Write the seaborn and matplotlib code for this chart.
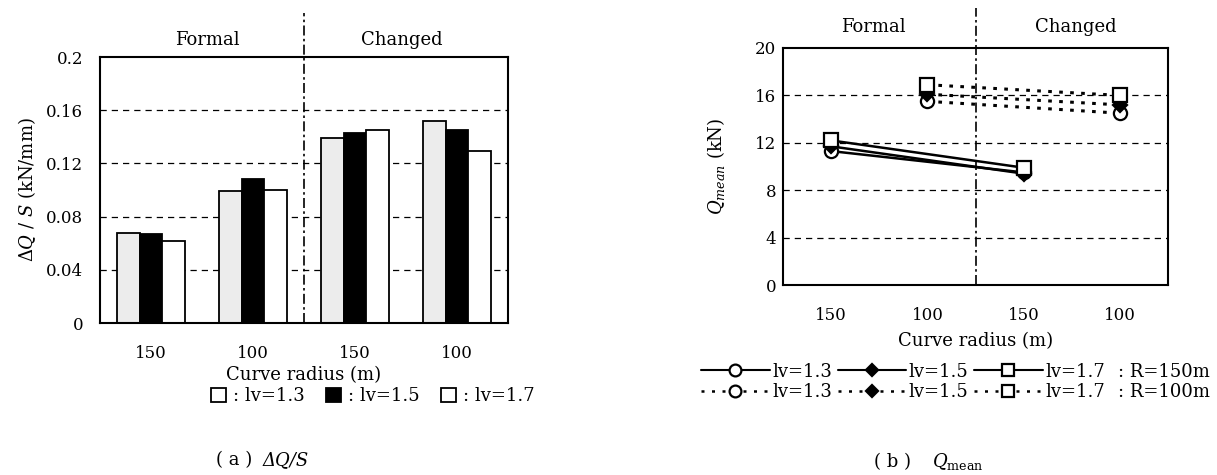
import numpy as np
import pandas as pd
import seaborn as sns
import matplotlib.pyplot as plt
from matplotlib.lines import Line2D
from matplotlib.patches import Patch

# categories along the x axis (4 cases) and their tick labels
groups = ["Formal 150", "Formal 100", "Changed 150", "Changed 100"]
tick_labels = ["150", "100", "150", "100"]
lv_levels = ["lv=1.3", "lv=1.5", "lv=1.7"]

# (a) dQ/S (kN/mm)
dqs_lv13 = [0.068, 0.099, 0.139, 0.152]
dqs_lv15 = [0.067, 0.108, 0.143, 0.145]
dqs_lv17 = [0.062, 0.100, 0.145, 0.129]

# (b) Q_mean (kN), R=150m drawn at the two "150" cases, R=100m at the "100" cases
r150_groups = ["Formal 150", "Changed 150"]
r100_groups = ["Formal 100", "Changed 100"]
q_r150_lv13 = [11.3, 9.5]
q_r150_lv15 = [11.7, 9.4]
q_r150_lv17 = [12.2, 9.9]
q_r100_lv13 = [15.5, 14.5]
q_r100_lv15 = [16.1, 15.2]
q_r100_lv17 = [16.9, 16.0]

sns.set_style("white")
plt.rcParams["font.family"] = ["DejaVu Serif"]
plt.rcParams["mathtext.fontset"] = "dejavuserif"
plt.rcParams["font.size"] = 13
plt.rcParams["text.color"] = "black"
plt.rcParams["axes.labelcolor"] = "black"
plt.rcParams["xtick.color"] = "black"
plt.rcParams["ytick.color"] = "black"

W, H = 1217, 475
fig = plt.figure(figsize=(W / 100, H / 100), dpi=100)
ax1 = fig.add_axes([100 / W, 1 - 323 / H, 408 / W, 266 / H])
ax2 = fig.add_axes([783 / W, 1 - 285 / H, 385 / W, 237 / H])

grid_kw = dict(color="black", linestyle=(0, (5, 4)), linewidth=0.9)
divider_kw = dict(color="black", linestyle=(0, (6, 2, 1.5, 2)), linewidth=1.2)
dotted = (0, (1.2, 2.4))

# ---------- (a) bar chart ----------
df_bar = pd.DataFrame({
    "group": groups * 3,
    "lv": np.repeat(lv_levels, len(groups)),
    "val": dqs_lv13 + dqs_lv15 + dqs_lv17,
})
bar_colors = ["#ececec", "black", "white"]
sns.barplot(data=df_bar, x="group", y="val", hue="lv", order=groups,
            hue_order=lv_levels, palette=bar_colors, saturation=1,
            edgecolor="black", linewidth=1.3, width=0.67, gap=0,
            legend=False, ax=ax1)
ax1.set_axisbelow(True)
ax1.set_xlim(-0.5, 3.5)
ax1.set_ylim(0, 0.2)
ax1.set_yticks([0, 0.04, 0.08, 0.12, 0.16, 0.2])
ax1.set_yticklabels(["0", "0.04", "0.08", "0.12", "0.16", "0.2"])
ax1.set_xticks(range(len(groups)))
ax1.set_xticklabels(tick_labels)
for y in [0.04, 0.08, 0.12, 0.16]:
    ax1.axhline(y, zorder=0.5, **grid_kw)
ax1.axvline(1.5, ymin=0, ymax=1.165, clip_on=False, zorder=5, **divider_kw)
ax1.tick_params(axis="both", length=0, labelsize=12)
ax1.tick_params(axis="y", pad=12)
ax1.tick_params(axis="x", pad=16)
ax1.set_xlabel("Curve radius (m)")
ax1.xaxis.set_label_coords(0.5, -0.162)
ax1.set_ylabel(r"$\mathit{\Delta Q\ /\ S}$ (kN/mm)", labelpad=6)
ax1.text(0.262, 1.064, "Formal", transform=ax1.transAxes, ha="center", va="center")
ax1.text(0.74, 1.064, "Changed", transform=ax1.transAxes, ha="center", va="center")
for s in ax1.spines.values():
    s.set_color("black")
    s.set_linewidth(1.5)

bar_handles = [Patch(facecolor="white" if c == "#ececec" else c, edgecolor="black",
                     linewidth=1.3) for c in bar_colors]
fig.legend(bar_handles, [": " + lv for lv in lv_levels], loc="center",
           bbox_to_anchor=(373 / W, 1 - 396 / H), ncol=3, frameon=False,
           handlelength=0.8, handleheight=0.8, handletextpad=0.4,
           columnspacing=1.2, borderpad=0.1)

fig.text(234 / W, 1 - 460 / H, "( a )", ha="center", va="center")
fig.text(263 / W, 1 - 460 / H, "ΔQ/S", ha="left", va="center", fontstyle="italic")

# ---------- (b) line chart ----------
markers = ["o", "D", "s"]
marker_face = ["white", "black", "white"]
marker_size = [9.5, 7, 9.5]
r150_x = [groups.index(g) for g in r150_groups]
r100_x = [groups.index(g) for g in r100_groups]
series = [
    (r150_x, q_r150_lv13, 0, "-"), (r150_x, q_r150_lv15, 1, "-"), (r150_x, q_r150_lv17, 2, "-"),
    (r100_x, q_r100_lv13, 0, dotted), (r100_x, q_r100_lv15, 1, dotted), (r100_x, q_r100_lv17, 2, dotted),
]
for xs, ys, k, ls in series:
    sns.lineplot(x=xs, y=ys, ax=ax2, color="black", linestyle=ls,
                 linewidth=1.8 if ls == "-" else 2.2,
                 marker=markers[k], markersize=marker_size[k],
                 markerfacecolor=marker_face[k], mec="black", mew=1.6)

ax2.set_xlim(-0.5, 3.5)
ax2.set_ylim(0, 20)
ax2.set_yticks([0, 4, 8, 12, 16, 20])
ax2.set_xticks(range(len(groups)))
ax2.set_xticklabels(tick_labels)
for y in [4, 8, 12, 16]:
    ax2.axhline(y, zorder=0.5, **grid_kw)
ax2.axvline(1.5, ymin=0, ymax=1.17, clip_on=False, zorder=5, **divider_kw)
ax2.tick_params(axis="both", length=0, labelsize=12)
ax2.tick_params(axis="y", pad=5)
ax2.tick_params(axis="x", pad=16)
ax2.set_xlabel("Curve radius (m)")
ax2.xaxis.set_label_coords(0.5, -0.2)
ax2.set_ylabel(r"$Q_{mean}$ (kN)", labelpad=20)
ax2.text(0.234, 1.089, "Formal", transform=ax2.transAxes, ha="center", va="center")
ax2.text(0.761, 1.089, "Changed", transform=ax2.transAxes, ha="center", va="center")
for s in ax2.spines.values():
    s.set_color("black")
    s.set_linewidth(1.5)

line_handles = []
line_labels = []
for ls in ["-", (0, (1.2, 3.0))]:
    for k, lv in enumerate(lv_levels):
        line_handles.append(Line2D([], [], color="black", linestyle=ls,
                                   linewidth=1.5 if ls == "-" else 1.8,
                                   marker=markers[k], markersize=marker_size[k] - 1,
                                   markerfacecolor=marker_face[k], markeredgecolor="black",
                                   markeredgewidth=1.6))
        line_labels.append(lv)
# legend fills column-wise: order so each row holds one line style
order = [0, 3, 1, 4, 2, 5]
fig.legend([line_handles[i] for i in order], [line_labels[i] for i in order],
           loc="center", bbox_to_anchor=(903 / W, 1 - 382 / H), ncol=3,
           frameon=False, handlelength=3.8, handletextpad=0.15,
           columnspacing=0.3, labelspacing=0.15, borderpad=0.1)
fig.text(1118 / W, 1 - 372 / H, ": R=150m", ha="left", va="center")
fig.text(1118 / W, 1 - 392 / H, ": R=100m", ha="left", va="center")

fig.text(893 / W, 1 - 462 / H, "( b )", ha="center", va="center")
fig.text(932 / W, 1 - 462 / H, r"$Q_{\mathrm{mean}}$", ha="left", va="center")

fig.savefig("out.png", dpi=100)
